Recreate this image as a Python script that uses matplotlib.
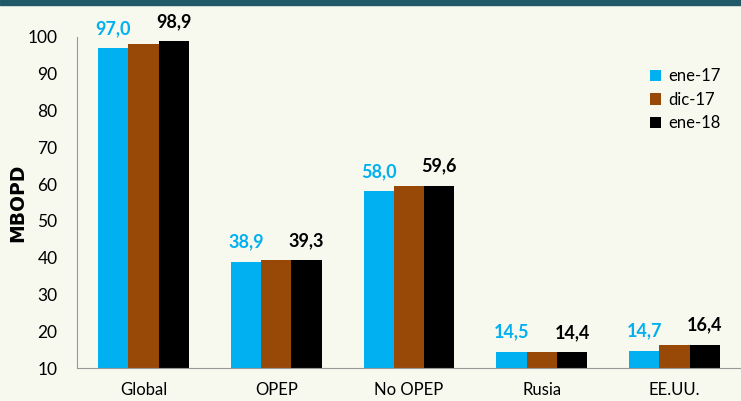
import matplotlib
matplotlib.use("Agg")
import matplotlib.pyplot as plt
import numpy as np
from matplotlib.patches import Rectangle

categories = ["Global", "OPEP", "No OPEP", "Rusia", "EE.UU."]
ene17 = [97.0, 38.9, 58.0, 14.5, 14.7]
dic17 = [98.2, 39.3, 59.4, 14.4, 16.4]
ene18 = [98.9, 39.3, 59.6, 14.4, 16.4]
series_names = ["ene-17", "dic-17", "ene-18"]

bg = "#f7f8ee"
cyan = "#00b0f0"
brown = "#984807"
black = "#000000"

plt.rcParams["font.family"] = ["Lato", "DejaVu Sans"]

fig = plt.figure(figsize=(7.41, 4.01), dpi=100, facecolor=bg)
ax = fig.add_axes([0.104, 0.082, 0.896, 0.826], facecolor=bg)

# dark band on top
fig.patches.append(Rectangle((0, 0.988), 1, 0.012, transform=fig.transFigure,
                             color="#215968", zorder=5))

x = np.arange(len(categories))
w = 0.228
ax.bar(x - w, ene17, w, color=cyan, label=series_names[0])
ax.bar(x, dic17, w, color=brown, label=series_names[1])
ax.bar(x + w, ene18, w, color=black, label=series_names[2])

for i in range(len(categories)):
    ax.annotate(f"{ene17[i]:.1f}".replace(".", ","), (x[i] - w, ene17[i]),
                xytext=(0, 8), textcoords="offset points", ha="center",
                va="bottom", color=cyan, fontsize=13, fontweight="bold")
    ax.annotate(f"{ene18[i]:.1f}".replace(".", ","), (x[i] + w, ene18[i]),
                xytext=(0, 8), textcoords="offset points", ha="center",
                va="bottom", color=black, fontsize=13, fontweight="bold")

ax.set_xlim(-0.5, 4.5)
ax.set_ylim(10, 100)
ax.set_yticks(range(10, 101, 10))
ax.set_xticks(x)
ax.set_xticklabels(categories, fontsize=12)
ax.tick_params(axis="y", length=0, labelsize=12.5, pad=14)
ax.tick_params(axis="x", length=0, pad=10)
ax.set_ylabel("MBOPD", fontsize=13.5, fontweight="bold", labelpad=0,
              family="DejaVu Sans")

for s in ["top", "right"]:
    ax.spines[s].set_visible(False)
ax.spines["left"].set_color("#999999")
ax.spines["bottom"].set_color("#999999")

ax.legend(loc="upper left", bbox_to_anchor=(0.84, 0.95), frameon=False,
          fontsize=12, handlelength=0.7, handleheight=0.7, handletextpad=0.4,
          labelspacing=0.45)

fig.savefig("out.png", dpi=100, facecolor=bg)
